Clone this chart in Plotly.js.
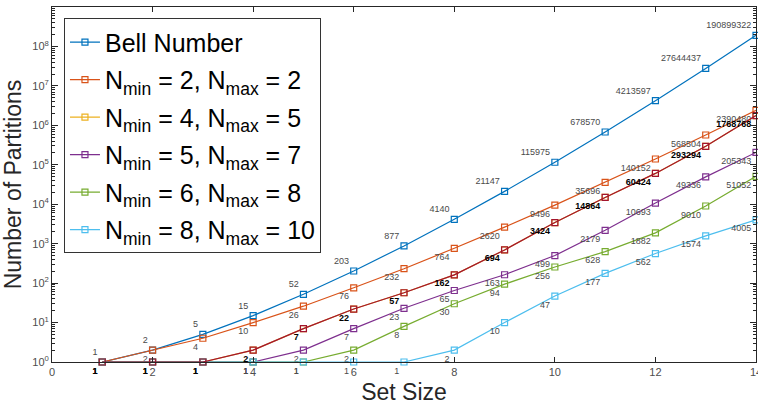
<!DOCTYPE html>
<html>
<head>
<meta charset="utf-8">
<script src="https://cdn.plot.ly/plotly-3.0.1.min.js"></script>
<style>html,body{margin:0;padding:0;background:#fff;}#chart{width:758px;height:409px;}</style>
</head>
<body>
<div id="chart"></div>
<script>
const setSize = [1,2,3,4,5,6,7,8,9,10,11,12,13,14];
const bell    = [1,2,5,15,52,203,877,4140,21147,115975,678570,4213597,27644437,190899322];
const n2_2    = [1,2,4,10,26,76,232,764,2620,9496,35696,140152,568504,2390480];
const n4_5    = [1,1,1,2,7,22,57,162,694,3424,14864,60424,293294,1768768];
const n5_7    = [1,1,1,1,2,7,23,65,163,499,2179,10693,49336,205343];
const n6_8    = [1,1,1,1,1,2,8,30,94,256,628,1882,9010,51052];
const n8_10   = [1,1,1,1,1,1,1,2,10,47,177,562,1574,4005];
const names = ['Bell Number',
  'N<sub>min</sub> = 2, N<sub>max</sub> = 2',
  'N<sub>min</sub> = 4, N<sub>max</sub> = 5',
  'N<sub>min</sub> = 5, N<sub>max</sub> = 7',
  'N<sub>min</sub> = 6, N<sub>max</sub> = 8',
  'N<sub>min</sub> = 8, N<sub>max</sub> = 10'];
const yTickVals = [1,10,100,1e3,1e4,1e5,1e6,1e7,1e8,1e9];
const yTickText = yTickVals.map((v,i)=>'10<sup>'+i+'</sup>');
const xTickVals = [0,2,4,6,8,10,12,14];

const font = 'Liberation Sans, Arial, Helvetica, sans-serif';
let g = 0;
function tr(y, name, color, pos, opts) {
  opts = opts || {};
  g += 1;
  return Object.assign({
    x: setSize, y: y, name: name, type: 'scatter', mode: 'lines+markers+text',
    legendgroup: 'g' + g,
    line: {color: color, width: 1.2},
    marker: {symbol: 'square-open', size: 6, color: color, line: {width: 1.2, color: color}},
    text: y.map(String), textposition: pos,
    textfont: {family: font, size: 9, color: '#4a4a4a'},
    cliponaxis: false, hoverinfo: 'x+y'
  }, opts);
}
const traces = [
  tr(bell, names[0], '#0072BD', 'top left'),
  tr(n2_2, names[1], '#D95319', 'bottom left'),
  tr(n4_5, names[2], '#EDB120', 'bottom left', {mode: 'lines+markers'}),
  tr(n5_7, names[3], '#7E2F8E', 'bottom left'),
  tr(n6_8, names[4], '#77AC30', 'bottom left'),
  tr(n8_10, names[5], '#4DBEEE', 'bottom left'),
  tr(n4_5, names[2], '#A2142F', 'bottom left', {showlegend: false,
     textfont: {family: font, size: 9, color: '#000', weight: 'bold'}})
];
const layout = {
  width: 758, height: 409,
  margin: {l: 52, r: 2, t: 7, b: 47},
  paper_bgcolor: '#fff', plot_bgcolor: '#fff',
  font: {family: font, color: '#262626'},
  showlegend: true,
  legend: {x: 0.017, y: 0.968, xanchor: 'left', yanchor: 'top',
    bgcolor: '#fff', bordercolor: '#333', borderwidth: 1,
    font: {family: font, size: 25, color: '#000'}, tracegroupgap: 2},
  xaxis: {range: [0, 14], tickvals: xTickVals, ticktext: xTickVals.map(String),
    ticks: 'inside', ticklen: 5, tickcolor: '#262626', mirror: 'ticks',
    ticklabeloverflow: 'allow',
    showline: true, linecolor: '#262626', linewidth: 1, showgrid: false, zeroline: false,
    tickfont: {family: font, size: 11, color: '#4d4d4d'},
    title: {text: 'Set Size', font: {family: font, size: 23, color: '#262626'}, standoff: 6}},
  yaxis: {type: 'log', range: [0, 9], tickvals: yTickVals, ticktext: yTickText,
    ticks: 'inside', ticklen: 6, tickcolor: '#262626', mirror: 'ticks',
    minor: {ticks: 'inside', ticklen: 3, tickcolor: '#262626', dtick: 'D1', showgrid: false},
    showline: true, linecolor: '#262626', linewidth: 1, showgrid: false, zeroline: false,
    tickfont: {family: font, size: 11, color: '#4d4d4d'},
    title: {text: 'Number of Partitions', font: {family: font, size: 23, color: '#262626'}, standoff: 6}}
};
Plotly.newPlot('chart', traces, layout, {displayModeBar: false, staticPlot: true});
</script>
</body>
</html>
